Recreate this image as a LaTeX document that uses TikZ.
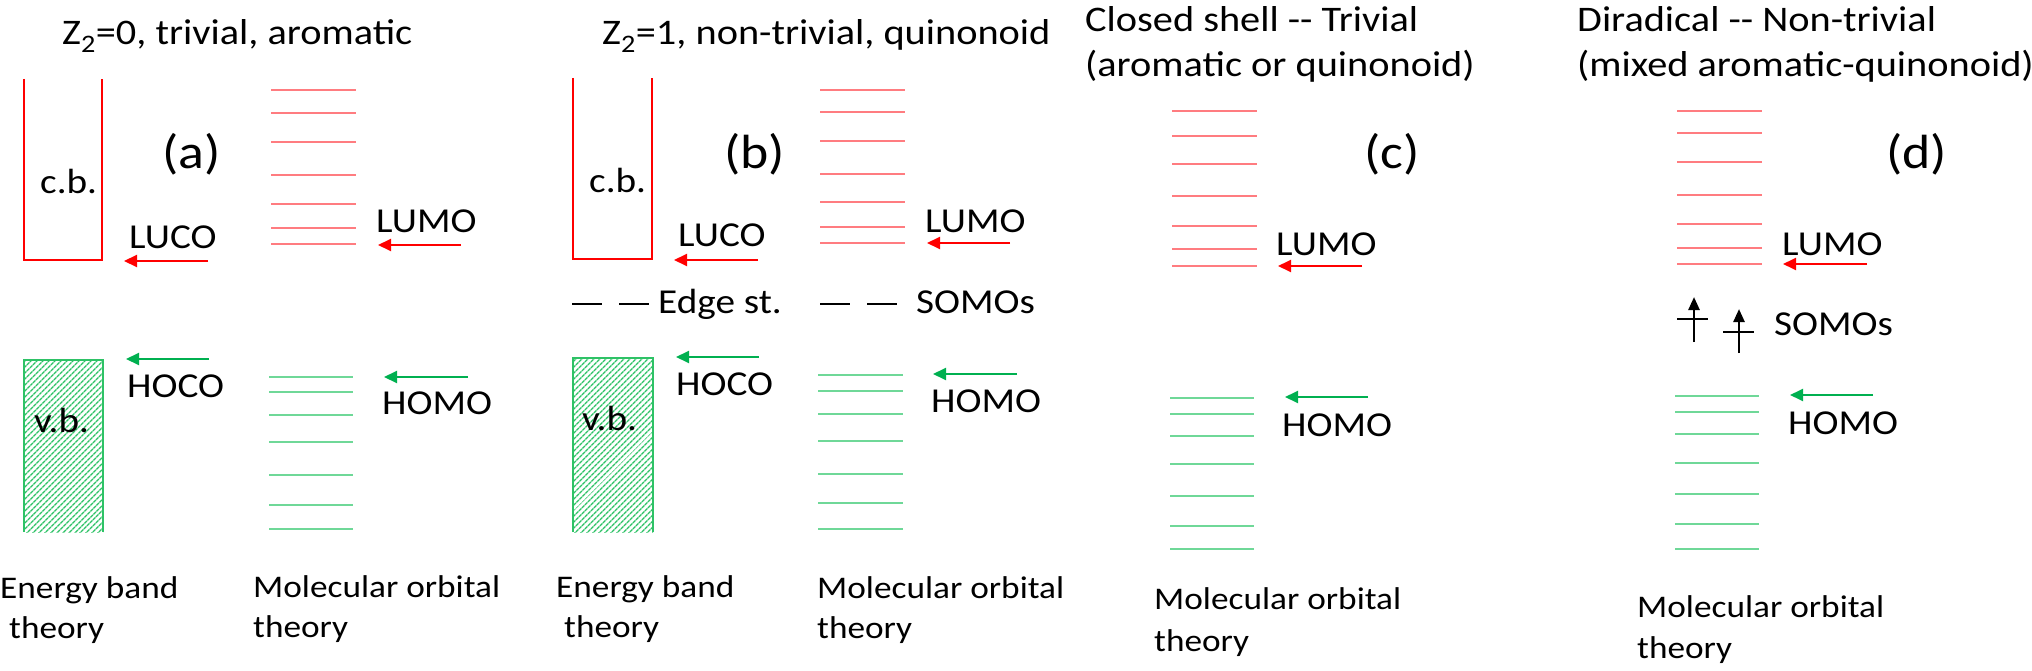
\documentclass[tikz,border=0pt]{standalone}
\usepackage{fontspec}
\setmainfont{Carlito}[FakeStretch=1.12]
\usetikzlibrary{arrows.meta, patterns.meta}
\definecolor{bandred}{HTML}{FF0000}
\definecolor{levelred}{HTML}{FF7C80}
\definecolor{bandgreen}{HTML}{2EC266}
\definecolor{levelgreen}{HTML}{6FD898}
\definecolor{ptrgreen}{HTML}{00B050}
\tikzset{
  lbl/.style={anchor=base west, inner sep=0pt, font=\fontsize{35}{42}\selectfont},
  foot/.style={lbl, font=\fontsize{31.5}{38}\selectfont},
  ttl/.style={lbl, font=\fontsize{36}{43}\selectfont},
  panel/.style={lbl, font=\fontsize{48}{56}\selectfont},
  bandedge/.style={bandred, line width=2.5pt},
  vbedge/.style={bandgreen, line width=2.5pt},
  unocc/.style={levelred, line width=2pt},
  occ/.style={levelgreen, line width=2pt},
  redptr/.style={bandred, line width=2pt, -{Triangle[length=13pt,width=12pt]}},
  greenptr/.style={ptrgreen, line width=2pt, -{Triangle[length=13pt,width=12pt]}},
  somo/.style={black, line width=2.5pt},
  spin/.style={black, line width=2.5pt, -{Triangle[length=13pt,width=11pt]}}
}
\begin{document}
\begin{tikzpicture}[x=1pt, y=-1pt]
  \useasboundingbox (0,0) rectangle (2032,671);

  % (a) trivial, aromatic
  \node[ttl] (titleA) at (62,45) {Z\textsubscript{2}=0, trivial, aromatic};
  \draw[bandedge] (24,79) -- (24,260) -- (102,260) -- (102,79);
  \node[lbl] (cbA) at (40,194) {c.b.};
  \node[panel] (labA) at (162,169) {(a)};
  \fill[pattern={Lines[angle=45,distance=4pt,line width=1.6pt]}, pattern color=bandgreen]
    (24,360) rectangle (103,532);
  \draw[vbedge] (24,532) -- (24,360) -- (103,360) -- (103,532);
  \node[lbl] (vbA) at (34,432) {v.b.};
  \node[lbl] (lucoA) at (129,248) {LUCO};
  \node[lbl] (hocoA) at (127,397) {HOCO};
  \coordinate (lucoAtail) at (208,261);
  \coordinate (lucoAtip) at (124,261);
  \coordinate (hocoAtail) at (209,359);
  \coordinate (hocoAtip) at (126,359);
  \draw[redptr] (lucoAtail) -- (lucoAtip);
  \draw[greenptr] (hocoAtail) -- (hocoAtip);
  \foreach \y in {90,113,142,175,204,228,244}
    \draw[unocc] (271,\y) -- (356,\y);
  \foreach \y in {377,392,415,442,475,505,529}
    \draw[occ] (269,\y) -- (353,\y);
  \node[lbl] (lumoA) at (376,233) {LUMO};
  \node[lbl] (homoA) at (382,414) {HOMO};
  \coordinate (lumoAtail) at (461,245);
  \coordinate (lumoAtip) at (378,245);
  \coordinate (homoAtail) at (468,377);
  \coordinate (homoAtip) at (384,377);
  \draw[redptr] (lumoAtail) -- (lumoAtip);
  \draw[greenptr] (homoAtail) -- (homoAtip);
  \node[foot] (ebtA) at (0,598) {Energy band};
  \node[foot] (ebtAb) at (9,638) {theory};
  \node[foot] (motA) at (253,597) {Molecular orbital};
  \node[foot] (motAb) at (253,637) {theory};

  % (b) non-trivial, quinonoid
  \node[ttl] (titleB) at (602,45) {Z\textsubscript{2}=1, non-trivial, quinonoid};
  \draw[bandedge] (573,78) -- (573,259) -- (652,259) -- (652,78);
  \node[lbl] (cbB) at (589,193) {c.b.};
  \node[panel] (labB) at (724,169) {(b)};
  \fill[pattern={Lines[angle=45,distance=4pt,line width=1.6pt]}, pattern color=bandgreen]
    (573,358) rectangle (653,532);
  \draw[vbedge] (573,532) -- (573,358) -- (653,358) -- (653,532);
  \node[lbl] (vbB) at (582,430) {v.b.};
  \node[lbl] (lucoB) at (678,247) {LUCO};
  \node[lbl] (hocoB) at (676,395) {HOCO};
  \coordinate (lucoBtail) at (758,260);
  \coordinate (lucoBtip) at (674,260);
  \coordinate (hocoBtail) at (759,357);
  \coordinate (hocoBtip) at (676,357);
  \draw[redptr] (lucoBtail) -- (lucoBtip);
  \draw[greenptr] (hocoBtail) -- (hocoBtip);
  \draw[somo] (572,304) -- (602,304);
  \draw[somo] (619,304) -- (649,304);
  \node[lbl] (edgeB) at (658,313) {Edge st.};
  \foreach \y in {90,112,141,174,202,227,243}
    \draw[unocc] (820,\y) -- (905,\y);
  \foreach \y in {375,391,414,441,474,503,529}
    \draw[occ] (818,\y) -- (903,\y);
  \draw[somo] (820,304) -- (850,304);
  \draw[somo] (867,304) -- (897,304);
  \node[lbl] (somoB) at (916,313) {SOMOs};
  \node[lbl] (lumoB) at (925,233) {LUMO};
  \node[lbl] (homoB) at (931,412) {HOMO};
  \coordinate (lumoBtail) at (1010,243);
  \coordinate (lumoBtip) at (927,243);
  \coordinate (homoBtail) at (1017,374);
  \coordinate (homoBtip) at (933,374);
  \draw[redptr] (lumoBtail) -- (lumoBtip);
  \draw[greenptr] (homoBtail) -- (homoBtip);
  \node[foot] (ebtB) at (556,597) {Energy band};
  \node[foot] (ebtBb) at (564,637) {theory};
  \node[foot] (motB) at (817,598) {Molecular orbital};
  \node[foot] (motBb) at (817,638) {theory};

  % (c) closed shell
  \node[ttl] (titleC) at (1085,32) {Closed shell -\kern0pt- Trivial};
  \node[ttl] (titleCb) at (1085,77) {(aromatic or quinonoid)};
  \node[panel] (labC) at (1364,169) {(c)};
  \foreach \y in {111,136,164,196,226,249,266}
    \draw[unocc] (1172,\y) -- (1257,\y);
  \foreach \y in {398,414,436,464,496,526,549}
    \draw[occ] (1170,\y) -- (1254,\y);
  \node[lbl] (lumoC) at (1276,255) {LUMO};
  \node[lbl] (homoC) at (1282,436) {HOMO};
  \coordinate (lumoCtail) at (1362,266);
  \coordinate (lumoCtip) at (1278,266);
  \coordinate (homoCtail) at (1368,397);
  \coordinate (homoCtip) at (1285,397);
  \draw[redptr] (lumoCtail) -- (lumoCtip);
  \draw[greenptr] (homoCtail) -- (homoCtip);
  \node[foot] (motC) at (1154,609) {Molecular orbital};
  \node[foot] (motCb) at (1154,651) {theory};

  % (d) diradical
  \node[ttl] (titleD) at (1577,32) {Diradical -\kern0pt- Non-trivial};
  \node[ttl] (titleDb) at (1577,77) {(mixed aromatic-quinonoid)};
  \node[panel] (labD) at (1886,169) {(d)};
  \foreach \y in {111,133,162,195,224,248,264}
    \draw[unocc] (1677,\y) -- (1762,\y);
  \foreach \y in {396,412,434,463,494,524,549}
    \draw[occ] (1675,\y) -- (1759,\y);
  \node[lbl] (lumoD) at (1782,255) {LUMO};
  \node[lbl] (homoD) at (1788,434) {HOMO};
  \coordinate (lumoDtail) at (1867,264);
  \coordinate (lumoDtip) at (1783,264);
  \coordinate (homoDtail) at (1873,395);
  \coordinate (homoDtip) at (1790,395);
  \draw[redptr] (lumoDtail) -- (lumoDtip);
  \draw[greenptr] (homoDtail) -- (homoDtip);
  % singly occupied levels with one spin each
  \draw[somo] (1677,319) -- (1708,319);
  \draw[somo] (1723,332) -- (1754,332);
  \coordinate (spinDa) at (1694,342);
  \coordinate (spinDatip) at (1694,297);
  \coordinate (spinDb) at (1739,353);
  \coordinate (spinDbtip) at (1739,309);
  \draw[spin] (spinDa) -- (spinDatip);
  \draw[spin] (spinDb) -- (spinDbtip);
  \node[lbl] (somoD) at (1774,335) {SOMOs};
  \node[foot] (motD) at (1637,617) {Molecular orbital};
  \node[foot] (motDb) at (1637,658) {theory};
\end{tikzpicture}
\end{document}
